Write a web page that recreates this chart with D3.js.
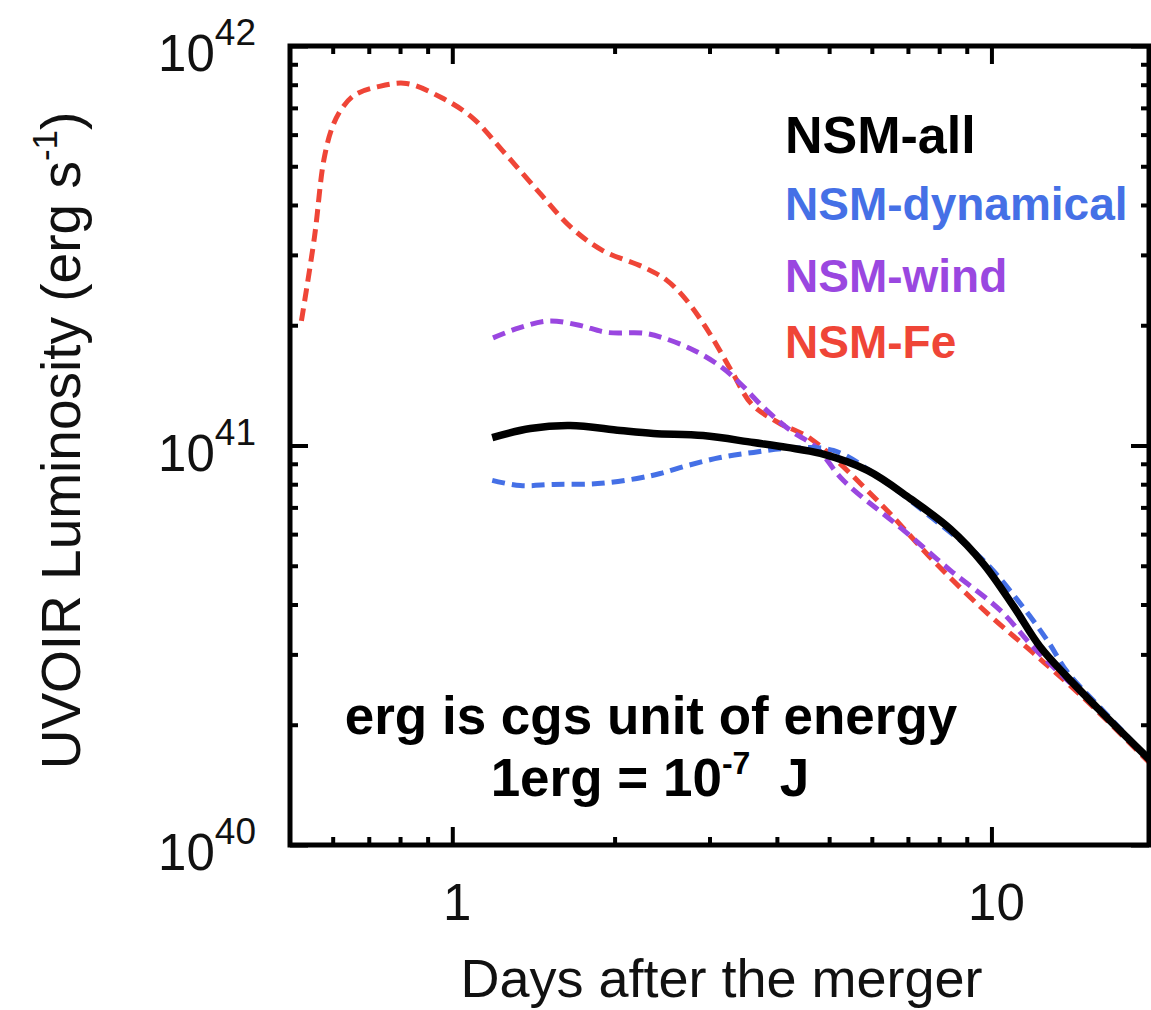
<!DOCTYPE html>
<html>
<head>
<meta charset="utf-8">
<script src="https://cdn.jsdelivr.net/npm/d3@7"></script>
<style>
  html, body { margin: 0; padding: 0; background: #fff; }
  svg text { font-family: "Liberation Sans", Arial, Helvetica, sans-serif; }
</style>
</head>
<body>
<div id="chart"></div>
<script>
// ── Data (days, erg/s) ───────────────────────────────────────────────
const nsmFe = [
  [0.525, 2.05e41], [0.555, 3.32e41], [0.578, 5.2e41], [0.600, 6.3e41],
  [0.625, 7.0e41], [0.66, 7.55e41], [0.726, 7.9e41], [0.822, 8.06e41],
  [0.954, 7.43e41], [1.089, 6.62e41], [1.238, 5.48e41], [1.456, 4.27e41],
  [1.663, 3.51e41], [1.898, 3.08e41], [2.27, 2.79e41], [2.50, 2.59e41],
  [2.72, 2.31e41], [3.00, 1.91e41], [3.31, 1.52e41], [3.59, 1.27e41],
  [4.03, 1.14e41], [4.62, 1.04e41], [6.22, 0.716e41], [7.80, 0.515e41],
  [9.83, 0.380e41], [11.97, 0.302e41], [14.8, 0.234e41], [19.7, 0.160e41]
];
const nsmWind = [
  [1.19, 1.86e41], [1.33, 1.97e41], [1.51, 2.05e41], [1.72, 2.00e41],
  [1.93, 1.92e41], [2.27, 1.91e41], [2.46, 1.86e41], [2.81, 1.73e41],
  [3.16, 1.57e41], [3.42, 1.43e41], [3.78, 1.245e41], [4.24, 1.09e41],
  [4.73, 0.99e41], [5.31, 0.818e41], [6.78, 0.623e41], [8.39, 0.487e41],
  [10.4, 0.386e41], [11.97, 0.312e41], [13.4, 0.269e41], [15.9, 0.217e41],
  [19.7, 0.163e41]
];
const nsmDyn = [
  [1.186, 0.818e41], [1.337, 0.794e41], [1.54, 0.799e41], [1.86, 0.803e41],
  [2.20, 0.827e41], [2.43, 0.851e41], [2.73, 0.891e41], [3.14, 0.933e41],
  [3.62, 0.961e41], [4.18, 0.983e41], [5.09, 0.972e41], [6.30, 0.818e41],
  [7.80, 0.655e41], [9.67, 0.515e41], [11.2, 0.409e41], [12.7, 0.325e41],
  [13.8, 0.272e41], [15.9, 0.221e41], [19.7, 0.163e41]
];
const nsmAll = [
  [1.186, 1.047e41], [1.395, 1.103e41], [1.655, 1.122e41], [2.05, 1.09e41],
  [2.36, 1.072e41], [2.92, 1.059e41], [3.62, 1.017e41], [4.18, 0.989e41],
  [4.82, 0.955e41], [5.89, 0.866e41], [7.08, 0.735e41], [8.39, 0.618e41],
  [9.67, 0.505e41], [11.0, 0.395e41], [12.3, 0.314e41], [13.8, 0.264e41],
  [15.9, 0.217e41], [19.7, 0.163e41]
];

const majorX = [1, 10];
const minorX = [0.6, 0.7, 0.8, 0.9, 2, 3, 4, 5, 6, 7, 8, 9];
const majorY = [1e40, 1e41, 1e42];
const minorY = [2e40, 3e40, 4e40, 5e40, 6e40, 7e40, 8e40, 9e40,
                2e41, 3e41, 4e41, 5e41, 6e41, 7e41, 8e41, 9e41];
const xLabels = ['1', '10'];
const yExponents = ['40', '41', '42'];

const legendNames = ['NSM-all', 'NSM-dynamical', 'NSM-wind', 'NSM-Fe'];

// ── Layout ───────────────────────────────────────────────────────────
const W = 1151, H = 1010;
const FRAME = { left: 290, right: 1149, top: 46, bottom: 845 };

const C_RED    = '#ef4537';
const C_BLUE   = '#4570e6';
const C_PURPLE = '#9a47e0';

const svg = d3.select('#chart').append('svg')
  .attr('width', W)
  .attr('height', H);

const x = d3.scaleLog().domain([0.5, 19.6]).range([FRAME.left, FRAME.right]);
const y = d3.scaleLog().domain([1e40, 1e42]).range([FRAME.bottom, FRAME.top]);

// ── Curves ──────────────────────────────────────────────────────────
const line = d3.line()
  .x(d => x(d[0]))
  .y(d => y(d[1]))
  .curve(d3.curveCatmullRom.alpha(0.5));

const plot = svg.append('g');
plot.append('clipPath').attr('id', 'clip')
  .append('rect')
  .attr('x', FRAME.left).attr('y', FRAME.top)
  .attr('width', FRAME.right - FRAME.left)
  .attr('height', FRAME.bottom - FRAME.top);

const curves = plot.append('g').attr('clip-path', 'url(#clip)');

const series = [
  { data: nsmFe,   color: C_RED,    dash: '13,7', width: 5 },
  { data: nsmWind, color: C_PURPLE, dash: '13,7', width: 5 },
  { data: nsmDyn,  color: C_BLUE,   dash: '13,7', width: 5 },
  { data: nsmAll,  color: '#000',   dash: null,   width: 7.5 }
];

series.forEach(s => {
  curves.append('path')
    .datum(s.data)
    .attr('d', line)
    .attr('fill', 'none')
    .attr('stroke', s.color)
    .attr('stroke-width', s.width)
    .attr('stroke-linejoin', 'round')
    .attr('stroke-dasharray', s.dash);
});

// ── Frame + inward ticks on all four sides ─────────────────────────
function tickAxis(axisFn, scale, values, size, transform) {
  const g = svg.append('g')
    .attr('transform', transform)
    .call(axisFn(scale).tickValues(values).tickSize(size).tickFormat(''));
  g.select('.domain').remove();
  g.selectAll('.tick line').attr('stroke', '#000').attr('stroke-width', 4);
}

[[minorX, 8], [majorX, 18]].forEach(([vals, sz]) => {
  tickAxis(d3.axisTop,    x, vals, sz, `translate(0,${FRAME.bottom})`);
  tickAxis(d3.axisBottom, x, vals, sz, `translate(0,${FRAME.top})`);
});
[[minorY, 8], [majorY, 18]].forEach(([vals, sz]) => {
  tickAxis(d3.axisRight, y, vals, sz, `translate(${FRAME.left},0)`);
  tickAxis(d3.axisLeft,  y, vals, sz, `translate(${FRAME.right},0)`);
});

svg.append('rect')
  .attr('x', FRAME.left).attr('y', FRAME.top)
  .attr('width', FRAME.right - FRAME.left)
  .attr('height', FRAME.bottom - FRAME.top)
  .attr('fill', 'none')
  .attr('stroke', '#000')
  .attr('stroke-width', 5);

// ── Tick labels ─────────────────────────────────────────────────────
majorX.forEach((v, i) => {
  svg.append('text')
    .attr('x', x(v) + 5)
    .attr('y', 920)
    .attr('text-anchor', 'middle')
    .attr('font-size', 51)
    .attr('fill', '#111')
    .text(xLabels[i]);
});

majorY.forEach((v, i) => {
  const t = svg.append('text')
    .attr('x', 256)
    .attr('y', y(v) + 25)
    .attr('text-anchor', 'end')
    .attr('font-size', 51)
    .attr('fill', '#111');
  t.append('tspan').text('10');
  t.append('tspan').attr('dy', -26).attr('font-size', 37).text(yExponents[i]);
});

// ── Axis titles ─────────────────────────────────────────────────────
svg.append('text')
  .attr('x', (FRAME.left + FRAME.right) / 2 + 2)
  .attr('y', 997)
  .attr('text-anchor', 'middle')
  .attr('font-size', 54)
  .attr('fill', '#111')
  .text('Days after the merger');

const yTitle = svg.append('text')
  .attr('transform', `translate(80,${(FRAME.top + FRAME.bottom) / 2 - 5}) rotate(-90)`)
  .attr('text-anchor', 'middle')
  .attr('font-size', 55)
  .attr('fill', '#111');
yTitle.append('tspan').text('UVOIR Luminosity (erg s');
yTitle.append('tspan').attr('dy', -23).attr('font-size', 35).text('-1');
yTitle.append('tspan').attr('dy', 23).text(')');

// ── Legend (coloured labels) ────────────────────────────────────────
const legendColors = ['#000', C_BLUE, C_PURPLE, C_RED];
const legendY = [153, 220, 292, 358];
const legendSize = [52, 46, 46, 46];
legendNames.forEach((name, i) => {
  svg.append('text')
    .attr('x', 785)
    .attr('y', legendY[i])
    .attr('font-size', legendSize[i])
    .attr('font-weight', 'bold')
    .attr('fill', legendColors[i])
    .text(name);
});

// ── Annotation ──────────────────────────────────────────────────────
svg.append('text')
  .attr('x', 651)
  .attr('y', 734)
  .attr('text-anchor', 'middle')
  .attr('font-size', 53)
  .attr('font-weight', 'bold')
  .attr('fill', '#000')
  .text('erg is cgs unit of energy');

const note2 = svg.append('text')
  .attr('x', 650)
  .attr('y', 796)
  .attr('text-anchor', 'middle')
  .attr('font-size', 53)
  .attr('font-weight', 'bold')
  .attr('fill', '#000');
note2.append('tspan').text('1erg = 10');
note2.append('tspan').attr('dy', -22).attr('font-size', 32).text('-7');
note2.append('tspan').attr('dy', 22).text('\u00a0\u00a0J');
</script>
</body>
</html>
